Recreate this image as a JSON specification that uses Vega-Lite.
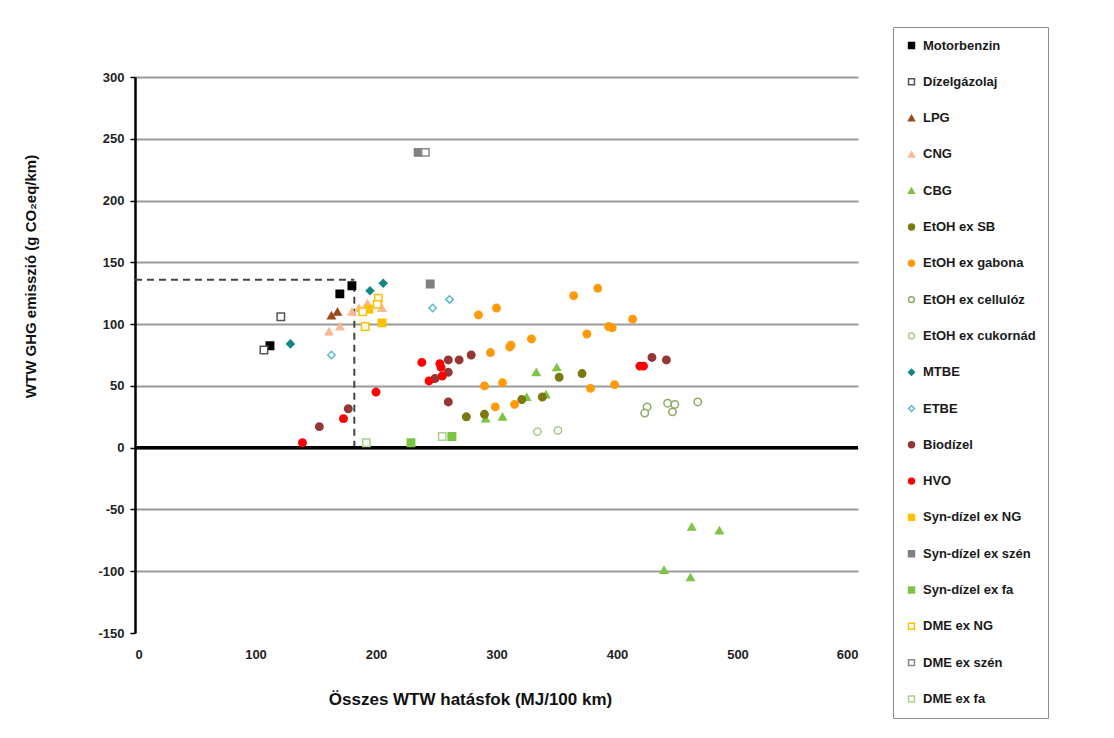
{
  "$schema": "https://vega.github.io/schema/vega-lite/v6.json",
  "width": 723,
  "height": 556,
  "autosize": "none",
  "padding": {"left": 135, "top": 77, "right": 256, "bottom": 105},
  "background": "white",
  "config": {
    "view": {"stroke": null},
    "font": "Liberation Sans",
    "legend": {
      "title": null,
      "orient": "none",
      "legendX": 758,
      "legendY": -50,
      "strokeColor": "#8c8c8c",
      "fillColor": "#ffffff",
      "padding": 12,
      "rowPadding": 22.3,
      "symbolSize": 35,
      "symbolStrokeWidth": 1.5,
      "labelOffset": 5,
      "labelFont": "Liberation Sans",
      "labelFontWeight": "bold",
      "labelFontSize": 13,
      "labelColor": "#1a1a1a",
      "labelLimit": 250
    }
  },
  "datasets": {
    "pts": [
      {"s": "Motorbenzin", "x": 112, "y": 82.5},
      {"s": "Motorbenzin", "x": 170, "y": 124.5},
      {"s": "Motorbenzin", "x": 180, "y": 131},
      {"s": "Dízelgázolaj", "x": 107, "y": 79},
      {"s": "Dízelgázolaj", "x": 121, "y": 106},
      {"s": "LPG", "x": 163, "y": 107},
      {"s": "LPG", "x": 168, "y": 110},
      {"s": "CNG", "x": 161, "y": 94},
      {"s": "CNG", "x": 170, "y": 98},
      {"s": "CNG", "x": 180, "y": 110},
      {"s": "CNG", "x": 186, "y": 113},
      {"s": "CNG", "x": 193, "y": 117},
      {"s": "CNG", "x": 205, "y": 113},
      {"s": "CBG", "x": 333, "y": 61},
      {"s": "CBG", "x": 350, "y": 65},
      {"s": "CBG", "x": 325, "y": 41},
      {"s": "CBG", "x": 341, "y": 43},
      {"s": "CBG", "x": 305, "y": 25},
      {"s": "CBG", "x": 291, "y": 23.5},
      {"s": "CBG", "x": 462, "y": -64},
      {"s": "CBG", "x": 485, "y": -67},
      {"s": "CBG", "x": 439, "y": -99},
      {"s": "CBG", "x": 461, "y": -105},
      {"s": "EtOH ex SB", "x": 275, "y": 25},
      {"s": "EtOH ex SB", "x": 290, "y": 27},
      {"s": "EtOH ex SB", "x": 321, "y": 39},
      {"s": "EtOH ex SB", "x": 338, "y": 41},
      {"s": "EtOH ex SB", "x": 352, "y": 57},
      {"s": "EtOH ex SB", "x": 371, "y": 60},
      {"s": "EtOH ex gabona", "x": 285, "y": 107.5},
      {"s": "EtOH ex gabona", "x": 300, "y": 113},
      {"s": "EtOH ex gabona", "x": 364, "y": 123},
      {"s": "EtOH ex gabona", "x": 384, "y": 129},
      {"s": "EtOH ex gabona", "x": 393, "y": 98},
      {"s": "EtOH ex gabona", "x": 396, "y": 97},
      {"s": "EtOH ex gabona", "x": 375, "y": 92},
      {"s": "EtOH ex gabona", "x": 329, "y": 88},
      {"s": "EtOH ex gabona", "x": 312, "y": 83},
      {"s": "EtOH ex gabona", "x": 311, "y": 81.5},
      {"s": "EtOH ex gabona", "x": 295, "y": 77},
      {"s": "EtOH ex gabona", "x": 290, "y": 50},
      {"s": "EtOH ex gabona", "x": 305, "y": 52.5},
      {"s": "EtOH ex gabona", "x": 299, "y": 33},
      {"s": "EtOH ex gabona", "x": 315, "y": 35},
      {"s": "EtOH ex gabona", "x": 378, "y": 48},
      {"s": "EtOH ex gabona", "x": 398, "y": 51},
      {"s": "EtOH ex gabona", "x": 413, "y": 104},
      {"s": "EtOH ex cellulóz", "x": 425, "y": 33},
      {"s": "EtOH ex cellulóz", "x": 423, "y": 28},
      {"s": "EtOH ex cellulóz", "x": 442, "y": 36},
      {"s": "EtOH ex cellulóz", "x": 448, "y": 35},
      {"s": "EtOH ex cellulóz", "x": 446, "y": 29},
      {"s": "EtOH ex cellulóz", "x": 467, "y": 37},
      {"s": "EtOH ex cukornád", "x": 334, "y": 13},
      {"s": "EtOH ex cukornád", "x": 351, "y": 14},
      {"s": "MTBE", "x": 129, "y": 84},
      {"s": "MTBE", "x": 195, "y": 127},
      {"s": "MTBE", "x": 206, "y": 133},
      {"s": "ETBE", "x": 163, "y": 75},
      {"s": "ETBE", "x": 247, "y": 113},
      {"s": "ETBE", "x": 261, "y": 120},
      {"s": "Biodízel", "x": 153, "y": 17},
      {"s": "Biodízel", "x": 177, "y": 31.5},
      {"s": "Biodízel", "x": 260, "y": 71},
      {"s": "Biodízel", "x": 269, "y": 71},
      {"s": "Biodízel", "x": 279, "y": 75},
      {"s": "Biodízel", "x": 260, "y": 61},
      {"s": "Biodízel", "x": 249, "y": 56},
      {"s": "Biodízel", "x": 260, "y": 37},
      {"s": "Biodízel", "x": 429, "y": 73},
      {"s": "Biodízel", "x": 441, "y": 71},
      {"s": "HVO", "x": 139, "y": 4},
      {"s": "HVO", "x": 173, "y": 23.5},
      {"s": "HVO", "x": 200, "y": 45},
      {"s": "HVO", "x": 238, "y": 69},
      {"s": "HVO", "x": 253, "y": 68},
      {"s": "HVO", "x": 254, "y": 65},
      {"s": "HVO", "x": 255, "y": 58},
      {"s": "HVO", "x": 244, "y": 54},
      {"s": "HVO", "x": 419, "y": 66},
      {"s": "HVO", "x": 422, "y": 66},
      {"s": "Syn-dízel ex NG", "x": 194, "y": 112},
      {"s": "Syn-dízel ex NG", "x": 205, "y": 101},
      {"s": "Syn-dízel ex szén", "x": 235, "y": 239},
      {"s": "Syn-dízel ex szén", "x": 245, "y": 132.5},
      {"s": "Syn-dízel ex fa", "x": 229, "y": 4},
      {"s": "Syn-dízel ex fa", "x": 263, "y": 9},
      {"s": "DME ex NG", "x": 191, "y": 98},
      {"s": "DME ex NG", "x": 202, "y": 121},
      {"s": "DME ex NG", "x": 189, "y": 110},
      {"s": "DME ex NG", "x": 201, "y": 116},
      {"s": "DME ex szén", "x": 241, "y": 239},
      {"s": "DME ex fa", "x": 255, "y": 9},
      {"s": "DME ex fa", "x": 192, "y": 4}
    ],
    "guides": [
      {"x": 0, "x2": 182, "y": 136, "y2": 136},
      {"x": 182, "x2": 182, "y": 0, "y2": 136}
    ]
  },
  "layer": [
    {
      "data": {"name": "guides"},
      "mark": {"type": "rule", "strokeDash": [7, 5], "stroke": "#444444", "strokeWidth": 2},
      "encoding": {
        "x": {"field": "x", "type": "quantitative", "scale": {"domain": [0, 600], "nice": false}, "axis": {
          "title": "Összes WTW hatásfok (MJ/100 km)",
          "values": [0, 100, 200, 300, 400, 500, 600],
          "grid": false, "domain": false, "ticks": false,
          "labelFont": "Liberation Sans", "labelFontWeight": "bold", "labelFontSize": 13, "labelColor": "#222222",
          "labelPadding": 15,
          "titleFont": "Liberation Sans", "titleFontWeight": "bold", "titleFontSize": 17, "titleColor": "#111111",
          "titlePadding": 30,
          "titleX": 335
        }},
        "x2": {"field": "x2"},
        "y": {"field": "y", "type": "quantitative", "scale": {"domain": [-150, 300], "nice": false}, "axis": {
          "title": "WTW GHG emisszió    (g CO₂eq/km)",
          "values": [-150, -100, -50, 0, 50, 100, 150, 200, 250, 300],
          "labelExpr": "toString(datum.value)",
          "grid": true,
          "gridColor": {"condition": {"test": "datum.value === -150", "value": "transparent"}, "value": "#9a9a9a"},
          "gridWidth": 2,
          "domain": true, "domainColor": "#000000", "domainWidth": 2.5,
          "ticks": true, "tickColor": "#000000", "tickSize": 5, "tickWidth": 1.5,
          "labelFont": "Liberation Sans", "labelFontWeight": "bold", "labelFontSize": 13, "labelColor": "#222222",
          "labelPadding": 6,
          "titleFont": "Liberation Sans", "titleFontWeight": "bold", "titleFontSize": 15, "titleColor": "#111111",
          "titleX": -97, "titleY": 199
        }},
        "y2": {"field": "y2"}
      }
    },
    {
      "data": {"values": [{"z": 0}]},
      "mark": {"type": "rule", "stroke": "#000000", "strokeWidth": 3.5},
      "encoding": {"y": {"field": "z", "type": "quantitative"}}
    },
    {
      "data": {"name": "pts"},
      "mark": {"type": "point", "opacity": 1, "fillOpacity": 1, "strokeWidth": 1.5, "size": 55},
      "encoding": {
        "x": {"field": "x", "type": "quantitative"},
        "y": {"field": "y", "type": "quantitative"},
        "fill": {
          "field": "s", "type": "nominal",
          "scale": {
            "domain": ["Motorbenzin", "Dízelgázolaj", "LPG", "CNG", "CBG", "EtOH ex SB", "EtOH ex gabona", "EtOH ex cellulóz", "EtOH ex cukornád", "MTBE", "ETBE", "Biodízel", "HVO", "Syn-dízel ex NG", "Syn-dízel ex szén", "Syn-dízel ex fa", "DME ex NG", "DME ex szén", "DME ex fa"],
            "range": ["#000000", "#ffffff", "#9c4a1a", "#f8b994", "#7cc444", "#7a7a10", "#ff9a0a", "#ffffff", "#ffffff", "#138787", "#ffffff", "#953735", "#ff0000", "#ffc000", "#808080", "#7cc444", "#ffffff", "#ffffff", "#ffffff"]
          },
          "legend": {
            "encode": {
              "labels": {
                "font": {"value": {"expr": "(datum.value === 'Motorbenzin' || datum.value === 'Dízelgázolaj') ? 'Liberation Serif' : 'Liberation Sans'"}},
                "fontSize": {"value": {"expr": "(datum.value === 'Motorbenzin' || datum.value === 'Dízelgázolaj') ? 17 : 13"}}
              }
            }
          }
        },
        "stroke": {
          "field": "s", "type": "nominal",
          "scale": {
            "domain": ["Motorbenzin", "Dízelgázolaj", "LPG", "CNG", "CBG", "EtOH ex SB", "EtOH ex gabona", "EtOH ex cellulóz", "EtOH ex cukornád", "MTBE", "ETBE", "Biodízel", "HVO", "Syn-dízel ex NG", "Syn-dízel ex szén", "Syn-dízel ex fa", "DME ex NG", "DME ex szén", "DME ex fa"],
            "range": ["#000000", "#555555", "#9c4a1a", "#f8b994", "#7cc444", "#7a7a10", "#ff9a0a", "#8fa860", "#a9c98c", "#138787", "#5bbcc8", "#953735", "#ff0000", "#ffc000", "#808080", "#7cc444", "#ffc000", "#8a8a8a", "#a9d18e"]
          },
          "legend": {
            "encode": {
              "labels": {
                "font": {"value": {"expr": "(datum.value === 'Motorbenzin' || datum.value === 'Dízelgázolaj') ? 'Liberation Serif' : 'Liberation Sans'"}},
                "fontSize": {"value": {"expr": "(datum.value === 'Motorbenzin' || datum.value === 'Dízelgázolaj') ? 17 : 13"}}
              }
            }
          }
        },
        "shape": {
          "field": "s", "type": "nominal",
          "scale": {
            "domain": ["Motorbenzin", "Dízelgázolaj", "LPG", "CNG", "CBG", "EtOH ex SB", "EtOH ex gabona", "EtOH ex cellulóz", "EtOH ex cukornád", "MTBE", "ETBE", "Biodízel", "HVO", "Syn-dízel ex NG", "Syn-dízel ex szén", "Syn-dízel ex fa", "DME ex NG", "DME ex szén", "DME ex fa"],
            "range": ["square", "square", "triangle-up", "triangle-up", "triangle-up", "circle", "circle", "circle", "circle", "diamond", "diamond", "circle", "circle", "square", "square", "square", "square", "square", "square"]
          },
          "legend": {
            "encode": {
              "labels": {
                "font": {"value": {"expr": "(datum.value === 'Motorbenzin' || datum.value === 'Dízelgázolaj') ? 'Liberation Serif' : 'Liberation Sans'"}},
                "fontSize": {"value": {"expr": "(datum.value === 'Motorbenzin' || datum.value === 'Dízelgázolaj') ? 17 : 13"}},
                "fill": {"value": "#101010"}
              }
            }
          }
        }
      }
    }
  ]
}
